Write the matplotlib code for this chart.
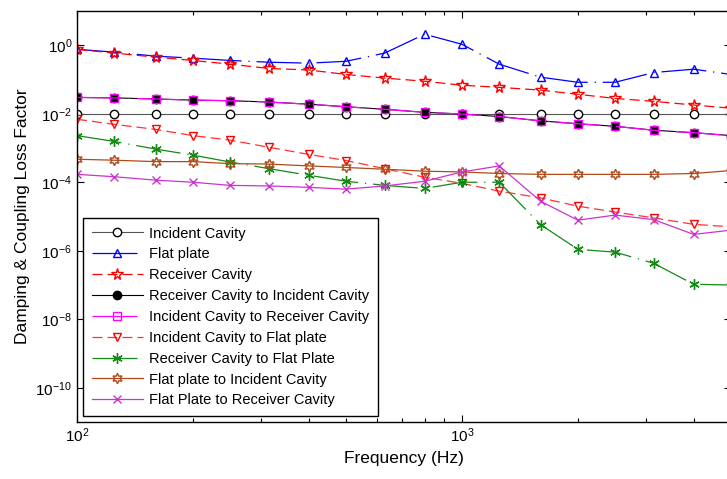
import matplotlib
matplotlib.use("Agg")
import matplotlib.pyplot as plt
from matplotlib.ticker import FixedLocator, NullLocator, NullFormatter, LogFormatterSciNotation

plt.rcParams['font.family'] = ['Liberation Sans', 'DejaVu Sans']
plt.rcParams['mathtext.fontset'] = 'custom'
plt.rcParams['mathtext.rm'] = 'Liberation Sans'

# bandes de tiers d'octave
freq = [100, 125, 160, 200, 250, 315, 400, 500, 630, 800, 1000, 1250,
        1600, 2000, 2500, 3150, 4000, 5000]

incident_cavity = [0.01] * 18
flat_plate = [0.76, 0.63, 0.48, 0.42, 0.36, 0.32, 0.30, 0.34, 0.59, 2.1, 1.07,
              0.28, 0.117, 0.083, 0.083, 0.16, 0.20, 0.14]
receiver_cavity = [0.76, 0.59, 0.45, 0.36, 0.28, 0.21, 0.19, 0.14, 0.11, 0.089,
                   0.068, 0.059, 0.049, 0.037, 0.028, 0.023, 0.018, 0.0145]
rc_to_ic = [0.030, 0.029, 0.027, 0.025, 0.024, 0.022, 0.019, 0.016, 0.0135,
            0.011, 0.0098, 0.0083, 0.0062, 0.0051, 0.0043, 0.0033, 0.0028, 0.0023]
ic_to_rc = [0.030, 0.029, 0.027, 0.025, 0.024, 0.022, 0.019, 0.016, 0.0135,
            0.011, 0.0098, 0.0083, 0.0062, 0.0051, 0.0043, 0.0033, 0.0028, 0.0023]
ic_to_fp = [6.9e-3, 4.9e-3, 3.5e-3, 2.3e-3, 1.7e-3, 1.05e-3, 6.5e-4, 4.3e-4,
            2.5e-4, 1.4e-4, 9.3e-5, 5.5e-5, 3.5e-5, 2.0e-5, 1.35e-5, 9.1e-6,
            5.9e-6, 5.0e-6]
rc_to_fp = [2.3e-3, 1.55e-3, 9.3e-4, 6.2e-4, 3.9e-4, 2.5e-4, 1.6e-4, 1.07e-4,
            8.1e-5, 6.6e-5, 1.0e-4, 1.0e-4, 5.8e-6, 1.1e-6, 9.1e-7, 4.3e-7,
            1.05e-7, 1.0e-7]
fp_to_ic = [4.7e-4, 4.4e-4, 4.0e-4, 4.0e-4, 3.5e-4, 3.4e-4, 3.0e-4, 2.7e-4,
            2.4e-4, 2.1e-4, 2.0e-4, 1.8e-4, 1.7e-4, 1.7e-4, 1.7e-4, 1.7e-4,
            1.8e-4, 2.2e-4]
fp_to_rc = [1.7e-4, 1.45e-4, 1.15e-4, 1.0e-4, 8.1e-5, 7.8e-5, 7.1e-5, 6.3e-5,
            7.8e-5, 1.07e-4, 2.0e-4, 3.0e-4, 2.8e-5, 7.8e-6, 1.1e-5, 8.1e-6,
            3.0e-6, 4.0e-6]

y_ticks = [1e0, 1e-2, 1e-4, 1e-6, 1e-8, 1e-10]

fig = plt.figure(figsize=(7.27, 4.79), dpi=100)
ax = fig.add_axes([77 / 727, 57 / 479, 654 / 727, 411 / 479])

dashdot = (0, (36, 5.5, 1, 5.5))
dashed = (0, (8, 4))
ms = 6

ax.plot(freq, incident_cavity, '-', color='#555555', lw=0.8, marker='o',
        mfc='white', mec='black', ms=ms, label='Incident Cavity')
ax.plot(freq, flat_plate, color='#0000FF', lw=0.9, ls=dashdot, marker='^',
        mfc='none', mec='#0000FF', ms=ms, label='Flat plate')
ax.plot(freq, receiver_cavity, color='#FF0000', lw=0.9, ls=dashed, marker='*',
        mfc='none', mec='#FF0000', ms=ms + 2.5, label='Receiver Cavity')
ax.plot(freq, rc_to_ic, '-', color='black', lw=0.8, marker='o',
        mfc='black', mec='black', ms=ms, label='Receiver Cavity to Incident Cavity')
ax.plot(freq, ic_to_rc, color='#FF00FF', lw=0.9, ls=dashdot, marker='s',
        mfc='none', mec='#FF00FF', ms=ms, label='Incident Cavity to Receiver Cavity')
ax.plot(freq, ic_to_fp, color='#FF3333', lw=0.9, ls=dashed, marker='v',
        mfc='none', mec='#FF0000', ms=ms, label='Incident Cavity to Flat plate')
ax.plot(freq, rc_to_fp, color='#138A13', lw=0.9, ls=dashdot, marker=(6, 2, 0),
        mfc='none', mec='#138A13', ms=ms + 1.5, label='Receiver Cavity to Flat Plate')
ax.plot(freq, fp_to_ic, '-', color='#B04A1A', lw=0.9, marker=(6, 1, 0),
        mfc='none', mec='#B04A1A', ms=ms + 1.5, label='Flat plate to Incident Cavity')
ax.plot(freq, fp_to_rc, '-', color='#CC33CC', lw=0.9, marker='x',
        mfc='none', mec='#CC33CC', ms=ms, label='Flat Plate to Receiver Cavity')

ax.set_xscale('log')
ax.set_yscale('log')
ax.set_xlim(100, 5000)
ax.set_ylim(1e-11, 1e1)
ax.yaxis.set_major_locator(FixedLocator(y_ticks))
ax.yaxis.set_minor_locator(NullLocator())
ax.yaxis.set_major_formatter(LogFormatterSciNotation())
ax.xaxis.set_minor_formatter(NullFormatter())

ax.tick_params(which='both', direction='in', top=True, right=True,
               labelsize=11, width=0.8)
ax.tick_params(which='major', length=5)
ax.tick_params(which='minor', length=3)
for s in ax.spines.values():
    s.set_linewidth(1.0)

ax.set_xlabel('Frequency (Hz)', fontsize=12.5)
ax.set_ylabel('Damping & Coupling Loss Factor', fontsize=12.5)

leg = ax.legend(loc='lower left', fontsize=10.5, handlelength=3.5,
                labelspacing=0.47, borderaxespad=0.4, fancybox=False,
                edgecolor='black', framealpha=1, borderpad=0.6,
                handletextpad=0.45)
leg.get_frame().set_linewidth(1.0)

fig.savefig('out.png', dpi=100)
